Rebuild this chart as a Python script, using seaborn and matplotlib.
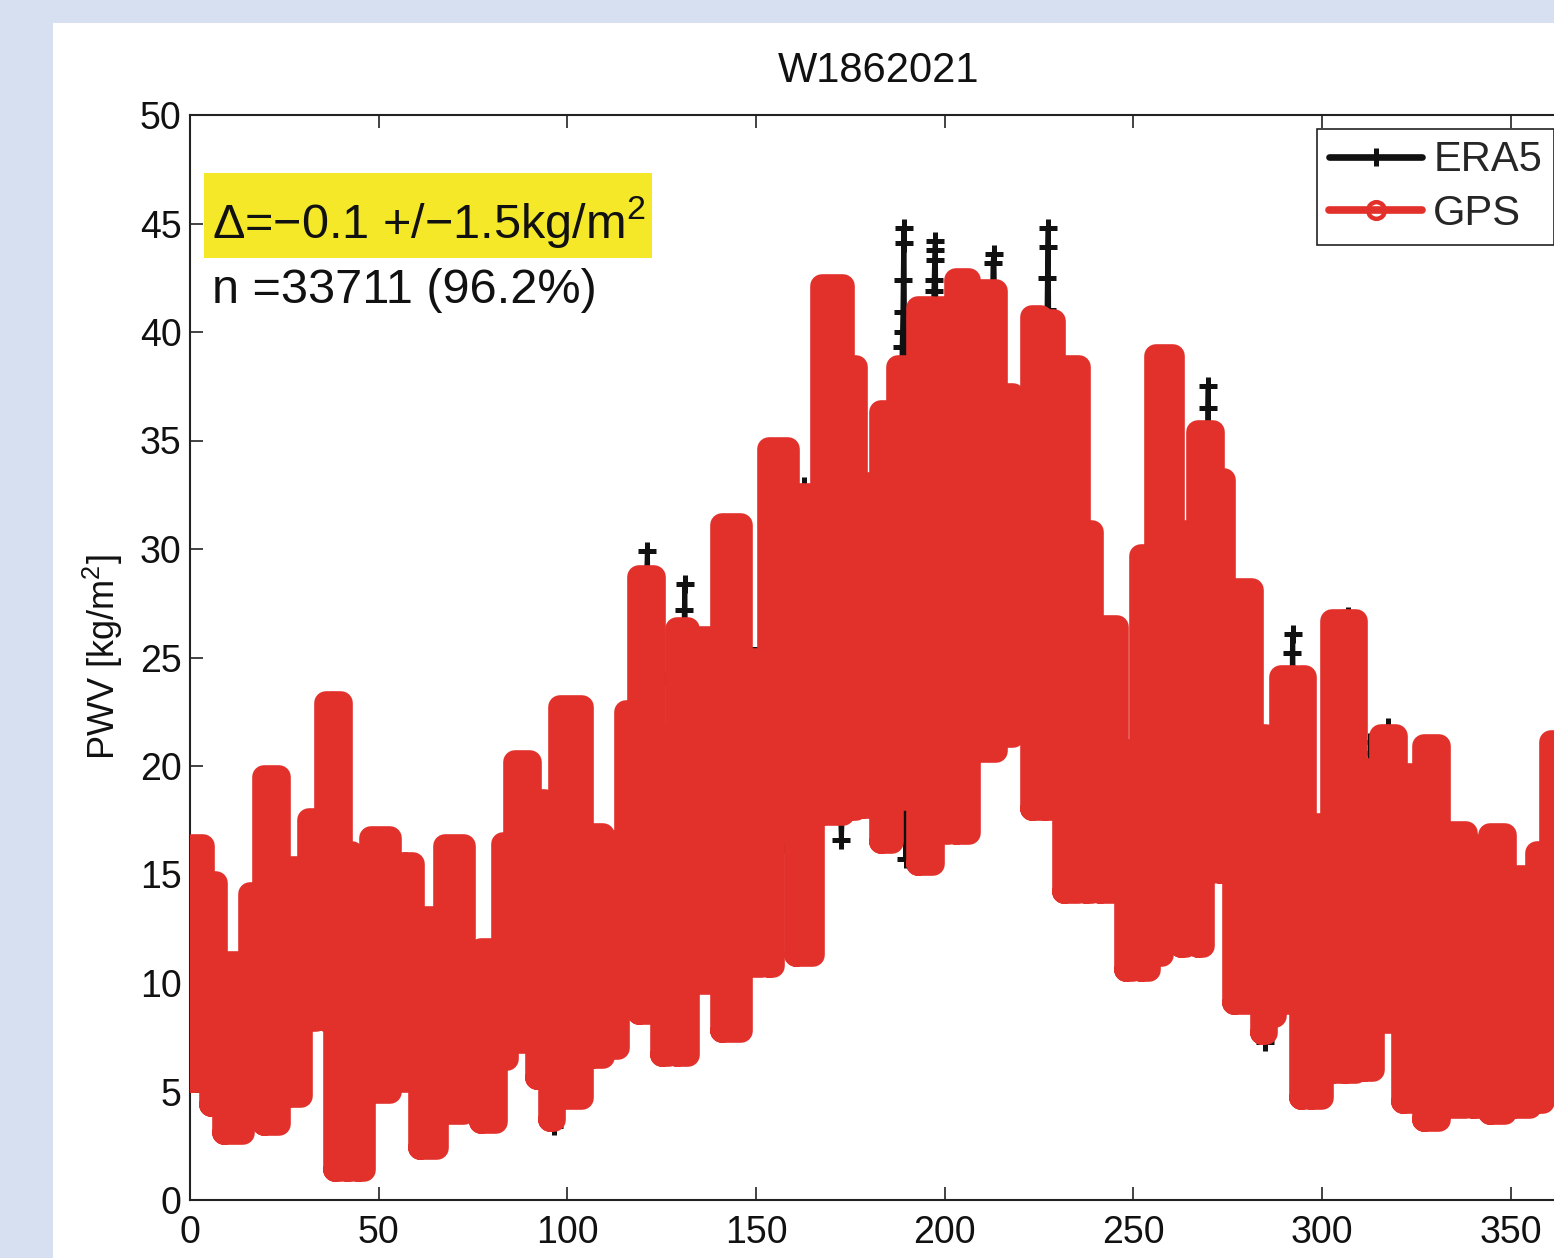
import numpy as np
import matplotlib
matplotlib.use('Agg')
import matplotlib.pyplot as plt
from matplotlib.lines import Line2D
from matplotlib.patches import Rectangle
import seaborn as sns

# GPS PWV (red): the dense series is read off as blocks, each one a day range
# (start/end) and the low/high values the series sweeps inside it
gps_start = [0.5, 5.5, 9, 16, 19.5, 26, 31.5, 36, 38.5, 41.5, 44.5, 48, 55, 61, 67.5,
             74, 77, 83, 86, 92, 95.5, 98, 106.5, 110.5, 115.5, 119, 125, 129, 134, 141,
             148, 153.5, 155.5, 160.5, 167.5, 175, 178, 183, 187.5, 193, 198.5, 203,
             208.5, 215.5, 219.5, 223, 226.5, 231.5, 237.5, 241, 248, 252, 256, 258.5,
             262.5, 267, 269.5, 273, 276.5, 284, 286.5, 289, 294.5, 297, 302.5, 306,
             311, 315.5, 321.5, 327, 333, 340, 344.5, 350.5, 357, 360.5]
gps_end = [3.5, 7, 14, 17.5, 23.5, 29.5, 33.5, 37.5, 40, 43, 46, 53, 59, 65.5, 72.5,
           75.5, 81, 84, 90, 94, 96.5, 104, 109.5, 113.5, 117, 123, 127, 132, 138, 146,
           151.5, 154.5, 158.5, 165, 173, 176.5, 181, 186, 191, 197, 201, 206.5,
           213.5, 218, 221, 225.5, 229, 235.5, 239, 245.5, 250, 254, 257.5, 260.5,
           264, 268.5, 271, 274, 281.5, 285, 287.5, 293, 295.5, 300, 305.5, 309,
           313.5, 319.5, 325, 331, 338, 342.5, 348.5, 355, 358.5, 362]
gps_low = [5.5, 4.4, 3.1, 5.0, 3.5, 4.8, 8.3, 8.3, 1.4, 1.4, 1.4, 5.0, 5.5, 2.4, 4.0,
           4.5, 3.6, 6.5, 7.3, 5.6, 3.7, 4.7, 6.6, 7.0, 10.0, 8.6, 6.7, 6.7, 10.0, 7.8,
           10.8, 10.8, 17.0, 11.3, 17.8, 18.0, 18.1, 16.5, 18.5, 15.5, 16.9, 16.9,
           20.7, 21.4, 22.0, 18.0, 18.0, 14.2, 14.2, 14.2, 10.6, 10.6, 11.3, 14.3,
           11.7, 11.7, 15.1, 15.1, 9.1, 7.7, 8.5, 9.1, 4.7, 4.7, 5.9, 5.9,
           6.0, 8.2, 4.5, 3.7, 4.3, 4.3, 4.0, 4.3, 4.5, 5.5]
gps_high = [16.3, 14.6, 10.9, 14.1, 19.5, 15.3, 17.5, 22.9, 22.9, 16.0, 14.4, 16.7, 15.5,
            13.0, 16.3, 10.5, 11.5, 16.4, 20.2, 18.4, 11.5, 22.7, 16.8, 16.5, 22.5, 28.7,
            21.4, 26.3, 25.9, 31.1, 24.9, 34.6, 34.6, 32.5, 42.1, 38.4, 33.0, 36.3, 38.4,
            41.1, 41.1, 42.4, 41.9, 37.1, 35.5, 40.7, 40.5, 38.4, 30.8, 26.4, 20.7, 29.7,
            38.9, 38.9, 30.8, 35.4, 35.4, 33.2, 28.1, 21.4, 17.3, 24.1, 24.1, 17.3, 26.7,
            26.7, 19.8, 21.4, 19.6, 20.9, 16.9, 16.3, 16.8, 14.9, 16.0, 21.1]

# ERA5 PWV (black): mostly hidden under GPS, only the spikes stick out
era_day = [0.5, 20, 40, 56, 57, 58, 63.5, 64.5, 65.5, 80, 91.5, 92, 92.5, 95.8, 96.5, 97.2,
           110, 120.5, 121, 121.2, 121.5, 130.5, 131, 131.1, 131.5, 145, 147.5, 148, 148.5,
           157, 157.5, 158, 162.5, 162.8, 163.2, 168, 168.3, 168.5, 168.8, 172, 172.6, 173.2,
           176, 176.3, 176.7, 188.5, 188.7, 188.8, 188.9, 189, 189.1, 189.2, 189.4, 189.5,
           189.6, 189.7, 190, 197, 197.1, 197.2, 197.3, 197.4, 197.5, 197.7, 212.5, 212.8,
           213, 213.3, 221, 221.3, 221.6, 227, 227.1, 227.2, 227.3, 227.4, 227.6, 249.3,
           249.6, 249.9, 269.5, 269.7, 269.8, 270, 284.5, 284.8, 285.1, 292, 292.1, 292.2,
           292.4, 296, 296.3, 296.6, 306.7, 306.8, 307, 312.6, 312.7, 312.8, 313, 317.4,
           317.5, 317.7, 340, 360]
era_pwv = [8, 10, 10, 12, 15.6, 12, 10, 13.1, 9, 9, 15, 18.4, 15, 6, 3.4, 6,
           12, 26, 28.8, 29.9, 26, 22, 27.2, 28.4, 22, 22, 24.8, 25.4, 22,
           20, 16.4, 20, 30, 32.9, 30, 30, 27.6, 26.5, 30, 20, 16.6, 20,
           30, 33.1, 30, 36, 39.3, 40.0, 40.9, 42.4, 44.1, 44.8, 36, 17.9,
           16.8, 15.7, 20, 38, 41.9, 42.4, 43.3, 43.8, 44.2, 38, 40, 43.2,
           43.6, 40, 25, 21.6, 25, 38, 41.0, 42.5, 43.9, 44.8, 38, 16,
           20.8, 16, 30, 36.5, 37.5, 30, 12, 7.3, 12, 20, 25.2, 26.1,
           20, 12, 8.3, 12, 22, 26.9, 22, 16, 20.6, 21.1, 16, 18,
           21.8, 18, 10, 10]

x_ticks = [0, 50, 100, 150, 200, 250, 300, 350]
y_ticks = [0, 5, 10, 15, 20, 25, 30, 35, 40, 45, 50]

title = 'W1862021'
ylabel = 'PWV [kg/m$^2$]'
stat_text = 'Δ=−0.1 +/−1.5kg/m$^2$'
n_text = 'n =33711 (96.2%)'

red = '#e2302b'
black = '#111111'
yellow = '#f4e829'

sns.set_style('ticks')
plt.rcParams['font.family'] = ['Liberation Sans', 'DejaVu Sans']
plt.rcParams['mathtext.fontset'] = 'custom'
plt.rcParams['mathtext.rm'] = 'Liberation Sans'
plt.rcParams['mathtext.it'] = 'Liberation Sans:italic'
plt.rcParams['mathtext.bf'] = 'Liberation Sans:bold'

fig = plt.figure(figsize=(15.54, 12.58), dpi=100, facecolor='#d6e0f0')
# white figure panel, cut off at right and bottom like the source
fig.add_artist(Rectangle((53 / 1554, 0), 1, 1 - 23 / 1258, transform=fig.transFigure,
                         facecolor='white', edgecolor='none', zorder=-1))
ax = fig.add_axes([190 / 1554, 58 / 1258, 1377.5 / 1554, 1085 / 1258])

# ERA5 first so GPS covers it
sns.lineplot(x=era_day, y=era_pwv, sort=False, estimator=None, ax=ax, color=black,
             linewidth=3.6, marker='+', markersize=13, markeredgewidth=3.6,
             markeredgecolor=black, zorder=2)
n_era = len(ax.lines)

# GPS: each block is walked low -> high -> high -> low -> low with a very thick pen
nseg = len(gps_start)
gx = np.column_stack([gps_start, gps_start, gps_end, gps_end, gps_start]).ravel()
gy = np.column_stack([gps_low, gps_high, gps_high, gps_low, gps_low]).ravel()
gid = np.repeat(np.arange(nseg), 5)
sns.lineplot(x=gx, y=gy, units=gid, sort=False, estimator=None, ax=ax, color=red,
             linewidth=17, zorder=3)
for ln in ax.lines:
    ln.set_solid_joinstyle('round')
    ln.set_solid_capstyle('round')
for ln in ax.lines[n_era:]:
    ln.set_zorder(3)

ax.set_xlim(0, 365)
ax.set_ylim(0, 50)
ax.set_xticks(x_ticks)
ax.set_yticks(y_ticks)
ax.tick_params(direction='in', length=9.4, width=1.2, top=True, right=True,
               labelsize=27, colors='#222222', labelcolor='#111111')
ax.tick_params(axis='y', pad=6)
ax.tick_params(axis='x', pad=10.5)
for s in ax.spines.values():
    s.set_linewidth(1.5)
    s.set_color('#222222')
    s.set_visible(True)

ax.set_xlabel('')
ax.set_ylabel(ylabel, fontsize=26, labelpad=11, color='#111111')
ax.set_title(title, fontsize=30, pad=24, color='#111111')

# yellow box behind the stats line
ax.add_patch(Rectangle((3.7, 43.41), 118.7, 3.92, facecolor=yellow, edgecolor='none',
                       zorder=4))
ax.text(5.8, 44.33, stat_text, fontsize=35, color='#111111', zorder=5)
ax.text(5.8, 41.34, n_text, fontsize=35, color='#111111', zorder=5)

handles = [
    Line2D([], [], color=black, lw=4.8, marker='+', markersize=13, markeredgewidth=3.6),
    Line2D([], [], color=red, lw=5.5, marker='o', markersize=12, markerfacecolor='none',
           markeredgewidth=3.2),
]
leg = ax.legend(handles, ['ERA5', 'GPS'], loc='upper right', fontsize=30,
                handlelength=2.25, handletextpad=0.26, borderpad=0.28, labelspacing=0.32,
                borderaxespad=0.33, fancybox=False, framealpha=1, edgecolor='#222222')
leg.get_frame().set_linewidth(1.2)
leg.set_zorder(10)

fig.savefig('out.png', dpi=100, facecolor=fig.get_facecolor())
